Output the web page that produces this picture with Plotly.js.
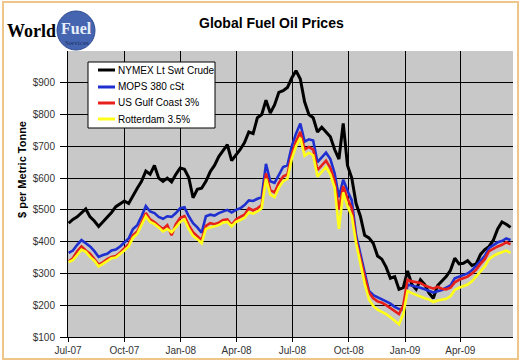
<!DOCTYPE html>
<html>
<head>
<meta charset="utf-8">
<script src="https://cdn.plot.ly/plotly-3.0.1.min.js"></script>
<style>
  html, body { margin: 0; padding: 0; background: #ffffff; }
  #chart { width: 520px; height: 363px; position: absolute; left: 0; top: 0; }
  #frame { position: absolute; left: 2px; top: 1px; width: 513px; height: 355px;
           border: 2px solid #efc68a; pointer-events: none; }
</style>
</head>
<body>
<div id="chart"></div>
<div id="frame"></div>
<script>
// ---- Data (weekly readings, US$ per metric tonne) ----
var startDate = "2007-07-02";
var nymex = [458,470,478,490,503,478,465,448,462,475,492,510,520,528,520,545,568,590,622,612,
  640,600,590,600,588,612,632,628,602,538,565,568,590,620,640,668,685,705,655,672,
  690,712,745,740,790,800,845,805,830,870,875,885,915,938,912,840,800,790,745,760,
  745,730,690,660,772,640,600,520,480,420,412,395,355,345,320,285,290,250,255,308,
  265,250,280,265,238,222,262,275,290,310,348,330,332,340,325,330,360,375,385,405,
  440,462,455,445];
var mops = [365,372,390,405,395,385,370,352,358,362,372,375,385,396,410,440,452,480,512,495,
  490,478,472,480,478,490,505,508,480,458,445,428,480,485,482,490,495,500,492,500,
  505,515,530,528,535,540,645,590,585,610,635,640,700,740,772,715,722,718,650,665,
  680,660,615,540,595,560,530,420,360,300,245,232,226,220,212,205,195,188,185,265,
  262,258,255,250,245,240,244,248,255,262,285,290,295,300,310,325,340,355,380,390,
  398,402,410,405];
var usGulf = [338,348,370,385,372,362,345,328,335,345,352,355,365,378,392,420,432,460,490,470,
  462,450,440,452,420,455,475,480,452,430,418,405,450,458,455,460,468,470,452,470,
  478,485,505,498,505,515,615,562,555,585,605,612,675,715,746,690,698,690,625,640,
  655,632,590,500,575,535,505,405,345,290,240,222,212,208,200,190,180,172,200,280,
  275,272,270,262,258,252,258,252,250,255,272,280,285,290,300,312,330,345,370,378,
  385,390,398,392];
var rotterdam = [336,342,358,375,368,352,340,322,330,340,348,350,360,372,385,412,425,452,480,462,
  455,445,432,440,430,445,462,470,440,418,408,395,440,445,448,452,460,462,448,462,
  468,475,492,488,495,505,598,548,540,570,590,598,660,700,727,670,680,672,605,620,
  635,612,570,440,555,512,480,395,330,268,218,198,186,180,172,162,152,140,172,245,
  238,232,228,222,218,210,215,218,220,228,248,255,260,265,275,290,305,322,345,355,
  362,368,372,365];
var seriesNames = ["NYMEX Lt Swt Crude", "MOPS 380 cSt", "US Gulf Coast 3%", "Rotterdam 3.5%"];
var tickDates = ["2007-07-01","2007-10-01","2008-01-01","2008-04-01","2008-07-01","2008-10-01","2009-01-01","2009-04-01"];
var tickLabels = ["Jul-07","Oct-07","Jan-08","Apr-08","Jul-08","Oct-08","Jan-09","Apr-09"];
var yTicks = [100,200,300,400,500,600,700,800,900];
var yLabels = ["$100","$200","$300","$400","$500","$600","$700","$800","$900"];

// weekly dates
var dates = [];
var d0 = new Date(startDate + "T00:00:00Z");
for (var i = 0; i < nymex.length; i++) {
  var d = new Date(d0.getTime() + i * 7 * 86400000);
  dates.push(d.toISOString().slice(0, 10));
}

var colors = ["#000000", "#1f2fd0", "#e8201c", "#ffff1a"];
var widths = [3, 2.6, 2.6, 2.6];
var vals = [nymex, mops, usGulf, rotterdam];
var traces = vals.map(function (v, k) {
  return { x: dates, y: v, type: "scatter", mode: "lines", name: seriesNames[k],
           line: { color: colors[k], width: widths[k] } };
});

var L = 68, T = 51, R = 513, B = 337;
function px(x) { return (x - L) / (R - L); }
function py(y) { return (B - y) / (B - T); }

var font = "Liberation Sans, Arial, sans-serif";
var serif = "Liberation Serif, Times New Roman, serif";

var shapes = [
  { type: "circle", xref: "paper", yref: "paper",
    x0: px(57), x1: px(95), y0: py(50), y1: py(11),
    fillcolor: "#4565b0", line: { color: "#2d4a92", width: 1 } },
  // legend box
  { type: "rect", xref: "paper", yref: "paper",
    x0: px(88), x1: px(215), y0: py(128), y1: py(62),
    fillcolor: "#ffffff", line: { color: "#000000", width: 1 } }
];
var annotations = [
  { text: "<b>Global Fuel Oil Prices</b>", xref: "paper", yref: "paper",
    x: px(271), y: py(23), xanchor: "center", yanchor: "middle", showarrow: false,
    font: { family: font, size: 14, color: "#000" } },
  { text: "<b>$ per Metric Tonne</b>", xref: "paper", yref: "paper",
    x: px(22), y: py(170), xanchor: "center", yanchor: "middle", showarrow: false,
    textangle: -90, font: { family: font, size: 11, color: "#000" } },
  { text: "<b>World</b>", xref: "paper", yref: "paper",
    x: px(58), y: py(31), xanchor: "right", yanchor: "middle", showarrow: false,
    font: { family: serif, size: 18, color: "#000" } },
  { text: "<b>Fuel</b>", xref: "paper", yref: "paper",
    x: px(76), y: py(28), xanchor: "center", yanchor: "middle", showarrow: false,
    font: { family: serif, size: 16, color: "#e6eefa" } },
  { text: "Services", xref: "paper", yref: "paper",
    x: px(77), y: py(43), xanchor: "center", yanchor: "middle", showarrow: false,
    font: { family: serif, size: 7, color: "#1a2f66" } }
];
// custom legend entries
var rowY = [70, 87, 103, 119];
seriesNames.forEach(function (n, k) {
  shapes.push({ type: "line", xref: "paper", yref: "paper",
    x0: px(98), x1: px(115), y0: py(rowY[k]), y1: py(rowY[k]),
    line: { color: colors[k], width: 3 } });
  annotations.push({ text: n, xref: "paper", yref: "paper",
    x: px(116), y: py(rowY[k]), xanchor: "left", yanchor: "middle", showarrow: false,
    font: { family: font, size: 10, color: "#000" } });
});

var layout = {
  width: 520, height: 363,
  margin: { l: L, r: 520 - R, t: T, b: 363 - B, pad: 0 },
  paper_bgcolor: "#ffffff",
  plot_bgcolor: "#c8c8c8",
  showlegend: false,
  xaxis: {
    type: "date", range: ["2007-07-01", "2009-06-26"],
    tickmode: "array", tickvals: tickDates, ticktext: tickLabels,
    showgrid: true, gridcolor: "#000000", gridwidth: 1,
    showline: true, linecolor: "#000000", linewidth: 1,
    ticks: "outside", ticklen: 4, tickcolor: "#000",
    tickfont: { family: font, size: 10, color: "#333" },
    zeroline: false, fixedrange: true
  },
  yaxis: {
    range: [100, 1000], tickmode: "array", tickvals: yTicks, ticktext: yLabels,
    showgrid: true, gridcolor: "#000000", gridwidth: 1,
    showline: true, linecolor: "#000000", linewidth: 1,
    ticks: "outside", ticklen: 7, tickcolor: "#000",
    ticklabelstandoff: 3,
    tickfont: { family: font, size: 10, color: "#333" },
    zeroline: false, fixedrange: true
  },
  shapes: shapes,
  annotations: annotations
};

Plotly.newPlot("chart", traces, layout, { displayModeBar: false, staticPlot: true });
</script>
</body>
</html>
